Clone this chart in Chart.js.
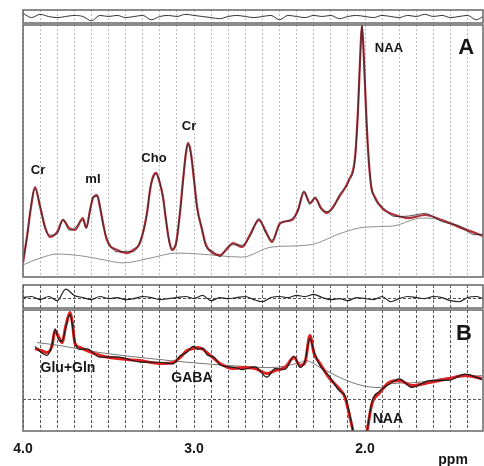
<!DOCTYPE html>
<html>
<head>
<meta charset="utf-8">
<script src="https://cdn.jsdelivr.net/npm/chart.js@4"></script>
<style>
  body { margin: 0; background: #fff; }
  #wrap { position: relative; width: 484px; height: 466px; overflow: hidden; }
  #wrap canvas { position: absolute; left: 0; }
</style>
</head>
<body>
<div id="wrap">
  <canvas id="resA" width="484" height="15" style="top:9px"></canvas>
  <canvas id="mainA" width="484" height="254" style="top:24px"></canvas>
  <canvas id="resB" width="484" height="25" style="top:284px"></canvas>
  <canvas id="mainB" width="484" height="157" style="top:309px"></canvas>
</div>
<script>
// chemical shift axis (ppm), drawn high -> low
const PPM_MAX = 4.0;
const PPM_MIN = 1.31;
const gridPpm = [4.0, 3.9, 3.8, 3.7, 3.6, 3.5, 3.4, 3.3, 3.2, 3.1, 3.0, 2.9, 2.8, 2.7, 2.6, 2.5, 2.4, 2.3, 2.2, 2.1, 2.0, 1.9, 1.8, 1.7, 1.6, 1.5, 1.4];
const axisLabels = [4.0, 3.0, 2.0];

// panel A: spectrum, fit, baseline
const ppmA = [4.00, 3.977, 3.953, 3.93, 3.90, 3.871, 3.842, 3.80, 3.766, 3.73, 3.696, 3.65, 3.63, 3.608, 3.591, 3.567, 3.55, 3.532, 3.51, 3.45, 3.39, 3.357, 3.316, 3.275, 3.257, 3.24, 3.222, 3.205, 3.181, 3.164, 3.146, 3.129, 3.105, 3.082, 3.064, 3.047, 3.035, 3.018, 3.0, 2.982, 2.953, 2.93, 2.889, 2.848, 2.807, 2.772, 2.719, 2.673, 2.62, 2.579, 2.544, 2.497, 2.427, 2.392, 2.357, 2.322, 2.292, 2.257, 2.222, 2.187, 2.152, 2.094, 2.058, 2.041, 2.029, 2.018, 2.006, 1.994, 1.982, 1.965, 1.942, 1.901, 1.825, 1.743, 1.65, 1.55, 1.45, 1.357, 1.31];
const fitA = [5.6, 15.9, 27.8, 35.7, 27.8, 19.8, 15.9, 17.9, 22.6, 19.4, 18.7, 23.4, 19.5, 26.6, 31.3, 32.5, 27.8, 21.4, 14.7, 10.7, 9.5, 10.7, 13.5, 25.4, 34.5, 39.7, 41.3, 38.5, 31.7, 22.6, 14.7, 10.7, 13.5, 25.4, 38.5, 49.2, 53.2, 49.2, 38.5, 27.8, 18.7, 12.7, 9.5, 8.7, 11.1, 13.5, 11.9, 16.7, 22.6, 17.9, 13.9, 21.4, 22.6, 26.6, 33.7, 29.4, 31.3, 27.4, 25.4, 27.8, 31.7, 38.5, 47.6, 66.3, 86.1, 100, 86.1, 66.3, 50.4, 36.5, 31.7, 27.4, 24.6, 23.4, 24.6, 22.6, 19.8, 17.5, 16.3];
const dataA = [6.5, 15.2, 28.5, 35.0, 28.4, 19.2, 16.6, 17.2, 23.0, 18.6, 19.5, 22.5, 19.5, 26.0, 31.8, 32.0, 28.5, 20.8, 15.5, 10.0, 10.2, 10.0, 14.2, 24.8, 35.0, 39.0, 40.8, 39.0, 31.0, 23.3, 14.0, 11.4, 12.8, 26.0, 37.8, 49.8, 52.6, 48.5, 39.2, 27.0, 19.4, 12.0, 10.2, 8.0, 11.8, 12.8, 12.6, 16.0, 23.2, 17.2, 14.6, 20.8, 23.2, 26.0, 34.2, 28.8, 31.8, 26.8, 26.0, 27.2, 32.3, 38.0, 47.0, 66.0, 85.5, 99.5, 85.5, 66.0, 50.0, 37.0, 31.0, 28.0, 24.0, 24.2, 25.2, 22.0, 20.3, 16.8, 17.0];
const basePpmA = [4.0, 3.90, 3.80, 3.65, 3.52, 3.415, 3.257, 3.10, 2.965, 2.72, 2.544, 2.327, 2.135, 2.0, 1.842, 1.667, 1.55, 1.31];
const baseA = [4.8, 7.5, 9.1, 8.3, 6.7, 5.6, 7.5, 9.5, 9.1, 7.9, 11.9, 12.7, 17.5, 19.8, 20.2, 23.4, 22.6, 16.3];

// panel B: edited (difference) spectrum
const ppmB = [3.93, 3.895, 3.86, 3.83, 3.813, 3.795, 3.772, 3.749, 3.725, 3.713, 3.696, 3.667, 3.626, 3.55, 3.45, 3.316, 3.199, 3.123, 3.082, 3.041, 3.006, 2.977, 2.947, 2.924, 2.883, 2.848, 2.772, 2.719, 2.643, 2.573, 2.526, 2.468, 2.415, 2.38, 2.351, 2.322, 2.298, 2.263, 2.211, 2.152, 2.117, 2.088, 2.07, 2.058, 2.0, 1.988, 1.959, 1.918, 1.86, 1.80, 1.725, 1.626, 1.509, 1.415, 1.316];
const fitB = [42.1, 40.5, 38.8, 44.6, 57.0, 52.9, 47.1, 61.2, 71.9, 65.3, 46.3, 43.0, 40.5, 36.4, 33.9, 32.2, 29.8, 30.6, 34.7, 40.5, 42.1, 43.0, 41.3, 38.8, 33.9, 29.8, 25.6, 26.4, 25.6, 21.5, 24.0, 26.4, 34.7, 28.1, 30.6, 52.9, 38.0, 29.8, 18.2, 9.1, 1.7, -14.9, -26.4, -38, -38, -26.4, -3.3, 5.0, 14.0, 15.7, 11.6, 14.0, 17.4, 19.8, 17.4];
const dataB = [44.0, 39.0, 36.5, 45.5, 58.5, 50.5, 48.0, 60.0, 70.5, 63.0, 47.5, 41.5, 41.8, 35.0, 35.2, 31.0, 30.8, 29.5, 36.0, 39.0, 44.0, 41.5, 42.5, 37.0, 35.0, 28.5, 26.8, 24.8, 27.0, 18.5, 25.5, 25.0, 36.0, 26.5, 31.8, 50.5, 39.5, 28.0, 19.5, 7.5, 3.0, -13.0, -26.4, -38, -38, -26.4, -1.5, 6.5, 12.5, 17.0, 10.0, 15.5, 16.0, 21.0, 16.5];
const basePpmB = [3.918, 3.784, 3.55, 3.257, 3.023, 2.79, 2.556, 2.38, 2.351, 2.251, 2.135, 2.018, 1.918, 1.842, 1.708, 1.55, 1.316];
const baseB = [47.1, 44.6, 38.8, 33.9, 30.6, 28.1, 26.4, 30.6, 32.2, 25.6, 17.4, 11.6, 9.9, 13.2, 14.0, 17.4, 19.8];

// fit residuals (top strips)
const resPpm = [4.00, 3.95, 3.90, 3.85, 3.80, 3.75, 3.70, 3.65, 3.60, 3.55, 3.50, 3.45, 3.40, 3.35, 3.30, 3.25, 3.20, 3.15, 3.10, 3.05, 3.00, 2.95, 2.90, 2.85, 2.80, 2.75, 2.70, 2.65, 2.60, 2.55, 2.50, 2.45, 2.40, 2.35, 2.30, 2.25, 2.20, 2.15, 2.10, 2.05, 2.00, 1.95, 1.90, 1.85, 1.80, 1.75, 1.70, 1.65, 1.60, 1.55, 1.50, 1.45, 1.40, 1.35, 1.31];
const resA = [3, -1, 2, 0, -1, 0, 1, 0, -4, 1, 0, 1, -1, 0, 1, -3, 0, 1, 0, 2, 1, 0, -1, -2, 0, 1, 0, -1, 0, 1, -3, 1, 0, -1, 1, 0, 1, -2, 0, 1, 0, -1, 1, 0, -1, 1, 0, 2, 0, 1, -1, 0, 1, -3, 0];
const resB = [1, 2, -1, 2, -2, 9, 3, 1, -1, 2, 0, 1, -1, 0, 2, 1, -1, 0, 1, 2, 0, 3, -2, 1, 0, 1, 2, -1, -3, 1, 2, 1, 3, 2, 4, 1, -1, 0, -2, 1, 0, -1, 2, -3, 0, 2, 1, 0, 2, 1, -2, -3, 1, 2, 0];

const FONT = 'Liberation Sans, Arial, sans-serif';

const pts = (xs, ys) => xs.map((x, i) => ({ x: x, y: ys[i] }));

const frame = {
  id: 'frame',
  defaults: { color: '#666', width: 1.5 },
  afterDraw(chart, args, opts) {
    const { ctx, chartArea: a } = chart;
    ctx.save();
    ctx.strokeStyle = opts.color;
    ctx.lineWidth = opts.width;
    ctx.strokeRect(a.left, a.top, a.right - a.left, a.bottom - a.top);
    ctx.restore();
  }
};

const marks = {
  id: 'marks',
  defaults: { items: [] },
  afterDraw(chart, args, opts) {
    const { ctx, scales } = chart;
    opts.items.forEach(m => {
      ctx.save();
      ctx.font = m.font;
      ctx.fillStyle = '#151515';
      ctx.textAlign = 'center';
      ctx.textBaseline = 'middle';
      ctx.fillText(m.text, scales.x.getPixelForValue(m.ppm), scales.y.getPixelForValue(m.v));
      ctx.restore();
    });
  }
};

Chart.register(frame, marks);

function xAxis(color, dash, labelled) {
  const axis = {
    type: 'linear',
    reverse: true,
    min: PPM_MIN,
    max: PPM_MAX,
    afterBuildTicks: s => { s.ticks = gridPpm.map(v => ({ value: v })); },
    ticks: { display: false },
    grid: { color: color, lineWidth: 1, drawTicks: false },
    border: { display: false, dash: dash }
  };
  if (labelled) {
    axis.ticks = {
      display: true,
      autoSkip: false,
      maxRotation: 0,
      padding: 10,
      color: '#151515',
      font: { family: FONT, size: 14, weight: 'bold' },
      callback: v => axisLabels.some(a => Math.abs(a - v) < 1e-6) ? v.toFixed(1) : ''
    };
    axis.afterFit = s => { s.height = 35; };
  }
  return axis;
}

function yAxis(min, max, zeroLine) {
  if (!zeroLine) return { display: false, min: min, max: max };
  return {
    min: min,
    max: max,
    afterBuildTicks: s => { s.ticks = [{ value: 0 }]; },
    ticks: { display: false },
    grid: { color: '#555', lineWidth: 1, drawTicks: false },
    border: { display: false, dash: [3, 2] }
  };
}

function line(points, color, width) {
  return {
    data: points,
    borderColor: color,
    borderWidth: width,
    pointRadius: 0,
    fill: false,
    cubicInterpolationMode: 'monotone'
  };
}

function makeChart(id, datasets, x, y, items, pad) {
  return new Chart(document.getElementById(id), {
    type: 'line',
    data: { datasets: datasets },
    options: {
      responsive: false,
      animation: false,
      devicePixelRatio: 1,
      events: [],
      parsing: false,
      layout: { padding: pad },
      scales: { x: x, y: y },
      plugins: {
        legend: { display: false },
        tooltip: { enabled: false },
        marks: { items: items }
      }
    }
  });
}

const padStrip = { left: 23, right: 1, top: 1, bottom: 1 };
const gridA = '#bcbcbc';
const gridB = '#5a5a5a';

// A residual strip
makeChart('resA', [line(pts(resPpm, resA), '#333', 1)],
  xAxis(gridA, [2, 2]), yAxis(-6, 6, false), [], padStrip);

// A main spectrum
makeChart('mainA', [
    line(pts(ppmA, dataA), '#2a2a2a', 0.8),
    line(pts(ppmA, fitA), '#b0303a', 2.2),
    line(pts(basePpmA, baseA), '#8e8e8e', 1)
  ],
  xAxis(gridA, [2, 2]), yAxis(0, 100, false), [
    { text: 'Cr', ppm: 3.912, v: 42.1, font: 'bold 13px ' + FONT },
    { text: 'mI', ppm: 3.591, v: 38.9, font: 'bold 13px ' + FONT },
    { text: 'Cho', ppm: 3.234, v: 47.2, font: 'bold 13px ' + FONT },
    { text: 'Cr', ppm: 3.029, v: 59.9, font: 'bold 13px ' + FONT },
    { text: 'NAA', ppm: 1.860, v: 90.9, font: 'bold 13px ' + FONT },
    { text: 'A', ppm: 1.409, v: 90.9, font: 'bold 22px ' + FONT }
  ], padStrip);

// B residual strip
makeChart('resB', [line(pts(resPpm, resB), '#222', 1.2)],
  xAxis(gridB, [3, 2]), yAxis(-9, 13, true), [], padStrip);

// B main (edited) spectrum
makeChart('mainB', [
    line(pts(ppmB, dataB), '#1a1a1a', 1.2),
    line(pts(ppmB, fitB), '#e0201e', 3),
    line(pts(basePpmB, baseB), '#777', 1)
  ],
  xAxis(gridB, [3, 2], true), yAxis(-26, 74, true), [
    { text: 'Glu+Gln', ppm: 3.737, v: 25.6, font: 'bold 14px ' + FONT },
    { text: 'GABA', ppm: 3.012, v: 17.4, font: 'bold 14px ' + FONT },
    { text: 'NAA', ppm: 1.866, v: -16.5, font: 'bold 14px ' + FONT },
    { text: 'B', ppm: 1.421, v: 54.5, font: 'bold 22px ' + FONT },
    { text: 'ppm', ppm: 1.485, v: -50.4, font: 'bold 14px ' + FONT }
  ], { left: 23, right: 1, top: 1, bottom: 0 });
</script>
</body>
</html>
